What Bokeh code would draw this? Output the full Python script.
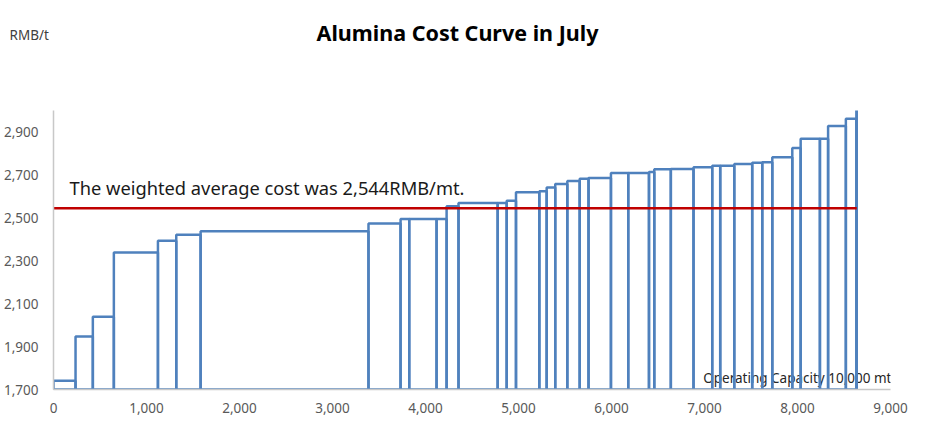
import numpy as np
from bokeh.plotting import figure
from bokeh.models import Range1d, FixedTicker, NumeralTickFormatter, Label
from bokeh.core.properties import value
from bokeh.embed import file_html
from bokeh.resources import INLINE

# capacity of each refinery (10,000 mt) in cost order, and its cost (RMB/t)
capacity = [237, 186, 226, 474, 197, 262, 1805, 345, 93, 294, 108, 128, 421, 97, 100,
            251, 79, 92, 130, 133, 95, 241, 186, 223, 57, 178, 244, 201, 86, 151,
            193, 108, 108, 215, 90, 207, 88, 191, 113, 4]
cost = [1741, 1947, 2039, 2338, 2393, 2421, 2437, 2474, 2495, 2495, 2495, 2554, 2569,
        2569, 2580, 2619, 2624, 2641, 2658, 2671, 2682, 2686, 2709, 2709, 2713, 2726,
        2728, 2735, 2742, 2742, 2751, 2756, 2759, 2782, 2825, 2868, 2868, 2928, 2961, 3050]
weighted_avg = 2544
x_ticks = [0, 1000, 2000, 3000, 4000, 5000, 6000, 7000, 8000, 9000]
y_ticks = [1700, 1900, 2100, 2300, 2500, 2700, 2900]

right = np.cumsum(capacity)
left = right - np.array(capacity)

FONT = "Noto Sans"

p = figure(width=909, height=423, output_backend="svg", toolbar_location=None,
           x_range=Range1d(0, 9000), y_range=Range1d(1700, 3000),
           min_border_left=40, min_border_right=19, min_border_top=110,
           min_border_bottom=34)
p.outline_line_color = None
p.xgrid.visible = False
p.ygrid.visible = False

for ax in (p.xaxis[0], p.yaxis[0]):
    ax.axis_line_color = "#c8c8c8"
    ax.axis_line_width = 1.5
    ax.major_tick_line_color = None
    ax.minor_tick_line_color = None
    ax.major_label_text_color = "#595959"
    ax.major_label_text_font = FONT
    ax.major_label_text_font_size = "13.5px"
    ax.formatter = NumeralTickFormatter(format="0,0")
p.xaxis.ticker = FixedTicker(ticks=x_ticks)
p.yaxis.ticker = FixedTicker(ticks=y_ticks)
p.xaxis.major_label_standoff = 7
p.yaxis.major_label_standoff = 9

p.text(x=[6986], y=[1752], text=["Operating Capacity  10,000 mt"],
       text_font=value(FONT), text_font_size="13.5px", text_color="#262626",
       text_baseline="middle", text_align="left")

p.quad(left=left, right=right, bottom=1700, top=cost,
       fill_color=None, line_color="#4f81bd", line_width=2.5)

p.line(x=[0, right[-1]], y=[weighted_avg, weighted_avg],
       line_color="#c00000", line_width=2.5)

p.add_layout(Label(x=172, y=2642, text="The weighted average cost was 2,544RMB/mt.",
                   text_font=FONT, text_font_size="18.3px", text_color="#1a1a1a",
                   text_baseline="middle"))
p.add_layout(Label(x=404, y=78, x_units="screen", y_units="screen",
                   text="Alumina Cost Curve in July",
                   text_font=FONT, text_font_size="21.5px", text_font_style="bold",
                   text_color="#000000", text_align="center", text_baseline="middle"),
             "above")
p.add_layout(Label(x=-44, y=47, x_units="screen", y_units="screen", text="RMB/t",
                   text_font=FONT, text_font_size="13.5px", text_color="#404040",
                   text_baseline="middle"), "above")

open("out.html", "w").write(file_html(p, INLINE))
